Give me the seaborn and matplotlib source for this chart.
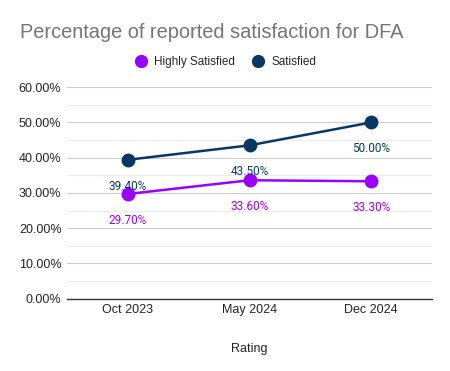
import matplotlib
matplotlib.use("Agg")
import matplotlib.pyplot as plt
import seaborn as sns
import pandas as pd
from matplotlib.ticker import MultipleLocator, PercentFormatter

# data
periods = ["Oct 2023", "May 2024", "Dec 2024"]
highly_satisfied = [29.70, 33.60, 33.30]
satisfied = [39.40, 43.50, 50.00]

purple = "#9900ff"
navy = "#073763"

df = pd.DataFrame({
    "Rating": periods * 2,
    "Value": highly_satisfied + satisfied,
    "Series": ["Highly Satisfied"] * 3 + ["Satisfied"] * 3,
})

sns.set_style("white")
plt.rcParams["font.family"] = ["Liberation Sans", "DejaVu Sans"]

fig = plt.figure(figsize=(4.5, 3.71), dpi=100)
ax = fig.add_axes([0.149, 0.195, 0.811, 0.57])

sns.lineplot(data=df, x="Rating", y="Value", hue="Series",
             palette={"Highly Satisfied": purple, "Satisfied": navy},
             marker="o", markersize=10, markeredgewidth=0, linewidth=1.8,
             ax=ax, legend=False, sort=False)

ax.set_xlim(-0.5, 2.5)
ax.set_ylim(0, 60)
ax.yaxis.set_major_locator(MultipleLocator(10))
ax.yaxis.set_minor_locator(MultipleLocator(5))
ax.yaxis.set_major_formatter(PercentFormatter(decimals=2))
ax.grid(axis="y", which="major", color="#cccccc", linewidth=0.8)
ax.grid(axis="y", which="minor", color="#ececec", linewidth=0.8)
ax.set_axisbelow(True)
for s in ["top", "right", "left"]:
    ax.spines[s].set_visible(False)
ax.spines["bottom"].set_color("#333333")
ax.spines["bottom"].set_linewidth(1)
ax.tick_params(axis="both", which="both", length=0, labelsize=9, colors="#222222", pad=4)
ax.set_ylabel("")
ax.set_xlabel("Rating", fontsize=9, color="#222222", labelpad=19)

# data labels (offset in points, all below the markers)
for i, (h, s) in enumerate(zip(highly_satisfied, satisfied)):
    ax.annotate(f"{h:.2f}%", (i, h), xytext=(0, -19), textcoords="offset points",
                ha="center", va="center", fontsize=8.5, color=purple, family="Roboto")
    ax.annotate(f"{s:.2f}%", (i, s), xytext=(0, -19), textcoords="offset points",
                ha="center", va="center", fontsize=8.5, color=navy, family="Roboto")

fig.text(20 / 450, 1 - 33 / 371, "Percentage of reported satisfaction for DFA",
         fontsize=14.4, color="#757575", ha="left", va="center")

# legend
fig.legend(handles=[
    plt.Line2D([], [], marker="o", color=purple, linestyle="", markersize=8.5, label="Highly Satisfied"),
    plt.Line2D([], [], marker="o", color=navy, linestyle="", markersize=8.5, label="Satisfied"),
], loc="center", bbox_to_anchor=(0.5, 1 - 62 / 371), ncol=2, frameon=False,
    fontsize=8.5, handletextpad=0.5, columnspacing=1.4, handlelength=1.2)

fig.savefig("out.png", dpi=100)
